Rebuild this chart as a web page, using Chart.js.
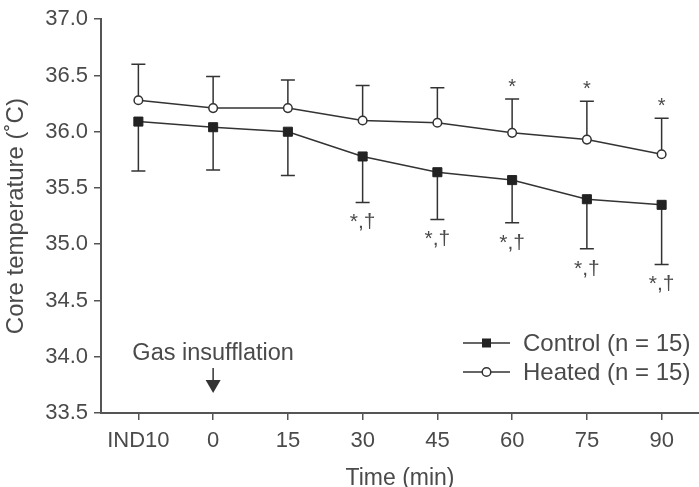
<!DOCTYPE html>
<html>
<head>
<meta charset="utf-8">
<script src="https://cdn.jsdelivr.net/npm/chart.js@4"></script>
<style>
  body { margin: 0; background: #fff; }
  canvas { display: block; }
</style>
</head>
<body>
<canvas id="myChart" width="699" height="487"></canvas>
<script>
const timeLabels = ["IND10", "0", "15", "30", "45", "60", "75", "90"];
const yTicks = [33.5, 34.0, 34.5, 35.0, 35.5, 36.0, 36.5, 37.0];

const control = [36.09, 36.04, 36.0, 35.78, 35.64, 35.57, 35.4, 35.35];
const controlLow = [35.65, 35.66, 35.61, 35.37, 35.22, 35.19, 34.96, 34.82];
const heated = [36.28, 36.21, 36.21, 36.1, 36.08, 35.99, 35.93, 35.8];
const heatedHigh = [36.6, 36.49, 36.46, 36.41, 36.39, 36.29, 36.27, 36.12];

const heatedMarks = ["", "", "", "", "", "*", "*", "*"];
const controlMarks = ["", "", "", "*,\u2020", "*,\u2020", "*,\u2020", "*,\u2020", "*,\u2020"];

const seriesNames = ["Control (n = 15)", "Heated (n = 15)"];
const eventLabel = "Gas insufflation";
const eventIndex = 1;

const ctx = document.getElementById("myChart").getContext("2d");
const textColor = "#4a4a4a";
const lineColor = "#333";
const axisColor = "#555";
const fontFamily = "'Liberation Sans', Arial, Helvetica, sans-serif";

function drawMarker(c, style, x, y) {
  c.beginPath();
  if (style === "rect") {
    c.fillStyle = "#222";
    c.fillRect(x - 4.5, y - 4.5, 9, 9);
  } else {
    c.fillStyle = "#fff";
    c.arc(x, y, 4.3, 0, Math.PI * 2);
    c.fill();
    c.stroke();
  }
}

const errorBars = {
  id: "errorBars",
  beforeDatasetsDraw(chart) {
    const c = chart.ctx;
    const { x, y } = chart.scales;
    c.save();
    c.strokeStyle = lineColor;
    c.lineWidth = 1.5;
    const bar = (px, from, to) => {
      c.beginPath();
      c.moveTo(px, from);
      c.lineTo(px, to);
      c.moveTo(px - 7, to);
      c.lineTo(px + 7, to);
      c.stroke();
    };
    timeLabels.forEach((label, i) => {
      const px = x.getPixelForValue(i);
      bar(px, y.getPixelForValue(heated[i]), y.getPixelForValue(heatedHigh[i]));
      bar(px, y.getPixelForValue(control[i]), y.getPixelForValue(controlLow[i]));
    });
    c.restore();
  },
};

const notes = {
  id: "notes",
  afterDatasetsDraw(chart) {
    const c = chart.ctx;
    const { x, y } = chart.scales;
    const area = chart.chartArea;
    c.save();
    c.fillStyle = textColor;
    c.textAlign = "center";

    // significance marks
    c.font = "20px " + fontFamily;
    c.textBaseline = "alphabetic";
    heatedMarks.forEach((m, i) => {
      if (m) c.fillText(m, x.getPixelForValue(i), y.getPixelForValue(heatedHigh[i]) - 6);
    });
    c.font = "21px " + fontFamily;
    c.textBaseline = "top";
    controlMarks.forEach((m, i) => {
      if (m) c.fillText(m, x.getPixelForValue(i), y.getPixelForValue(controlLow[i]) + 9.5);
    });

    // gas insufflation arrow
    const ax = x.getPixelForValue(eventIndex);
    c.font = "23.5px " + fontFamily;
    c.textBaseline = "middle";
    c.fillText(eventLabel, ax, area.bottom - 59);
    c.strokeStyle = lineColor;
    c.fillStyle = lineColor;
    c.lineWidth = 1.5;
    c.beginPath();
    c.moveTo(ax, area.bottom - 45);
    c.lineTo(ax, area.bottom - 32);
    c.stroke();
    c.beginPath();
    c.moveTo(ax - 7.5, area.bottom - 33);
    c.lineTo(ax + 7.5, area.bottom - 33);
    c.lineTo(ax, area.bottom - 20);
    c.closePath();
    c.fill();

    // legend
    const lx = area.right - 236;
    const styles = ["rect", "circle"];
    seriesNames.forEach((name, i) => {
      const ly = area.bottom - 70 + i * 29;
      c.strokeStyle = lineColor;
      c.lineWidth = 1.5;
      c.beginPath();
      c.moveTo(lx, ly);
      c.lineTo(lx + 47, ly);
      c.stroke();
      drawMarker(c, styles[i], lx + 23.5, ly);
      c.fillStyle = textColor;
      c.textAlign = "left";
      c.textBaseline = "middle";
      c.font = "24px " + fontFamily;
      c.fillText(name, lx + 60, ly + 1);
    });
    c.restore();
  },
};

const myChart = new Chart(ctx, {
  type: "line",
  data: {
    labels: timeLabels,
    datasets: [
      {
        label: seriesNames[0],
        data: control,
        borderColor: lineColor,
        borderWidth: 1.5,
        pointStyle: "rect",
        pointRadius: 6.4,
        pointBackgroundColor: "#222",
        pointBorderColor: "#222",
        pointBorderWidth: 1,
        tension: 0,
      },
      {
        label: seriesNames[1],
        data: heated,
        borderColor: lineColor,
        borderWidth: 1.5,
        pointStyle: "circle",
        pointRadius: 4.3,
        pointBackgroundColor: "#fff",
        pointBorderColor: lineColor,
        pointBorderWidth: 1.5,
        tension: 0,
      },
    ],
  },
  options: {
    responsive: false,
    animation: false,
    devicePixelRatio: 1,
    layout: {
      autoPadding: false,
      padding: { top: 17, right: 0, bottom: 0, left: 0 },
    },
    plugins: {
      legend: { display: false },
      tooltip: { enabled: false },
    },
    scales: {
      x: {
        offset: true,
        grid: {
          offset: false,
          drawOnChartArea: false,
          tickLength: 7,
          color: axisColor,
          lineWidth: 1.5,
        },
        border: { color: axisColor, width: 2 },
        ticks: {
          color: textColor,
          padding: 8,
          font: { family: fontFamily, size: 22 },
          maxRotation: 0,
          autoSkip: false,
        },
        title: {
          display: true,
          text: "Time (min)",
          color: textColor,
          font: { family: fontFamily, size: 23, lineHeight: 0.5 },
          padding: { top: 0, bottom: 3 },
        },
        afterFit(scale) {
          scale.height = 74;
          scale.paddingLeft = 0;
          scale.paddingRight = 0;
        },
      },
      y: {
        min: yTicks[0],
        max: yTicks[yTicks.length - 1],
        afterBuildTicks(scale) {
          scale.ticks = yTicks.map((v) => ({ value: v }));
        },
        grid: {
          drawOnChartArea: false,
          tickLength: 7,
          color: axisColor,
          lineWidth: 1.5,
        },
        border: { color: axisColor, width: 2 },
        ticks: {
          color: textColor,
          padding: 6,
          font: { family: fontFamily, size: 22 },
          callback: (v) => Number(v).toFixed(1),
        },
        title: {
          display: true,
          text: "Core temperature (\u02daC)",
          color: textColor,
          font: { family: fontFamily, size: 24, lineHeight: 1 },
          padding: { top: 4, bottom: 0 },
        },
        afterFit(scale) {
          scale.width = 101;
        },
      },
    },
  },
  plugins: [errorBars, notes],
});
</script>
</body>
</html>
